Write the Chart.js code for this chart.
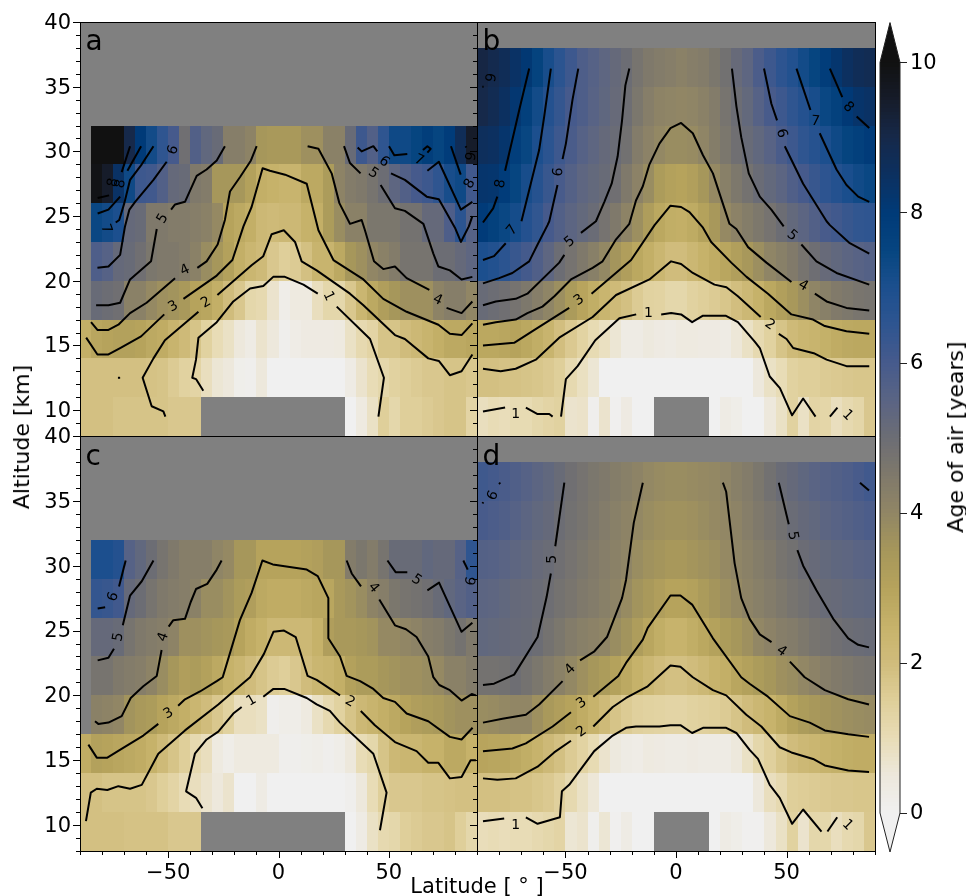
<!DOCTYPE html>
<html>
<head>
<meta charset="utf-8">
<title>Age of air</title>
<script src="https://cdn.jsdelivr.net/npm/chart.js@4"></script>
<style>
  body { margin: 0; background: #fff; }
  #figure { position: relative; width: 966px; height: 896px; overflow: hidden; font-family: "DejaVu Sans", sans-serif; color: #000; }
  canvas { position: absolute; }
  .axis-title { position: absolute; font-size: 21px; line-height: 24px; white-space: pre; }
  #altitude-title { left: 22px; top: 437px; font-size: 22px; transform: translate(-50%, -50%) rotate(-90deg); }
  #latitude-title { left: 477px; top: 886px; transform: translate(-50%, -50%); }
  #age-title { left: 956px; top: 437px; font-size: 22px; transform: translate(-50%, -50%) rotate(-90deg); }
</style>
</head>
<body>
<div id="figure">
  <canvas id="panelA"></canvas>
  <canvas id="panelB"></canvas>
  <canvas id="panelC"></canvas>
  <canvas id="panelD"></canvas>
  <canvas id="colorbar"></canvas>
  <div class="axis-title" id="altitude-title">Altitude [km]</div>
  <div class="axis-title" id="latitude-title">Latitude [ ° ]</div>
  <div class="axis-title" id="age-title">Age of air [years]</div>
</div>
<script>
// Cell edges shared by all panels
const latitudeEdges = [-90,-85,-80,-75,-70,-65,-60,-55,-50,-45,-40,-35,-30,-25,-20,-15,-10,-5,0,5,10,15,20,25,30,35,40,45,50,55,60,65,70,75,80,85,90];
const altitudeEdges = [8,11,14,17,20,23,26,29,32,35,38];
const latitudeLabels = [-50,0,50];
const altitudeLabels = [10,15,20,25,30,35,40];
const colorbarTicks = [0,2,4,6,8,10];

// Colour scale
const colorStops = [0,0.5,1,1.5,2,2.5,3,3.5,4,4.5,5,5.5,6,6.5,7,7.5,8,8.5,9,9.5,10];
const colorValues = ['#f0f0f0','#ede8dc','#e8dcb6','#dfcf9a','#d0bc7c','#c6b26a','#b6a35c','#a6975b','#918665','#7f796b','#6c6d74','#5a6484','#465a8c','#2f5590','#1c4f8e','#064580','#003a78','#0c3060','#16294a','#161c2a','#111111'];

// Age of air per cell, one row per altitude band from the bottom, null = no data
const panelAGrid = [
  [1.9,1.9,1.9,1.8,1.8,1.8, 1.8,1.8,1.7,1.7,1.7,null, null,null,null,null,null,null, null,null,null,null,null,null, 0,0.4,0.8,1.5,1.2,1.5, 1.5,1.6,1.7,1.8,1.8,1.3],
  [1.9,1.9,1.9,1.9,1.9,1.9, 1.85,1.8,1.6,1.4,1.3,0.9, 0.6,0.5,0.15,0.1,0.5,0, 0,0,0,0,0,0, 0.3,0.7,1,1.2,1.4,1.5, 1.6,1.7,1.7,1.8,1.8,1.7],
  [2.6,2.9,3,3.1,3.1,3, 2.8,2.7,2.4,2.1,1.8,1.4, 1,0.8,0.5,0.3,0.7,0.5, 0.1,0.25,0.35,0.35,0.35,0.4, 0.8,1.1,1.3,1.8,1.8,2, 2.2,2.4,2.6,2.8,2.8,2.9],
  [null,5.1,5,4.9,4.2,4.2, 3.9,3.7,3.6,3.4,3,2.9, 2.6,2,1.7,1.2,1.1,0.7, 0.2,0.4,0.4,0.9,1.2,1.2, 1.7,2.3,2.8,3.2,3.5,3.7, 3.7,3.7,4.1,4.3,4.3,4],
  [null,5.8,5.6,5.2,5.1,4.9, 4.6,4.5,4.5,4.4,4.2,3.8, 3.5,3.1,2.6,2.3,2.1,1.7, 1.5,1.6,1.9,2.4,2.4,2.8, 3.5,3.7,4,4.2,4.4,4.7, 4.7,4.7,5,5,5.2,5.4],
  [null,7.4,7.2,7,5.2,5.1, 4.5,4.5,4.4,4.4,4.3,4.2, 3.9,3,2.8,2.6,2.2,2.1, 2.2,2.2,2.5,2.6,3.3,3.8, 4.2,4.2,4.6,4.6,4.6,4.8, 4.8,5.2,5.2,5.8,6.6,5.6],
  [null,9.9,9.5,8.4,7.3,6.2, 6.1,5.7,5.2,5.1,4.5,4.4, 3.5,3.5,3.5,3.1,2.6,2.5, 2.4,2.4,2.8,2.8,3.3,4.1, 4.4,4.5,4.7,5,5.4,5.7, 6,6.2,6.5,7.1,7.3,6.1],
  [null,10,10,10,9,8, 7.2,6.5,6,4.9,5.7,5.3, 5.1,4.3,4.3,4.1,3.5,3.4, 3.4,3.4,3.7,3.7,4.2,4.2, 5.1,6.2,5.7,6.5,7.3,7.3, 7.5,7.8,7.5,7.9,8.7,9.5]
];
const panelBGrid = [
  [0.9,1,0.95,1.05,1.05,1.2, 1.3,1.4,0.7,0.75,0.1,0.7, 0.05,0.35,0,0,null,null, null,null,null,0,0.3,0.2, 0,0,0.5,0.8,1.4,0.8, 1.3,1.25,0.9,1.1,1.25,1.7],
  [1.9,1.9,1.85,1.85,1.8,1.75, 1.65,1.5,1.1,0.85,0.6,0, 0,0,0,0,0,0, 0,0,0,0,0,0, 0,0.5,0.8,1,1.4,1.5, 1.5,1.6,1.65,1.7,1.75,1.75],
  [2.85,2.85,2.9,3,2.85,2.65, 2.4,1.95,1.65,1.35,1.05,0.85, 0.6,0.3,0.3,0.45,0.35,0.3, 0.4,0.4,0.35,0.35,0.3,0.55, 0.8,1.1,1.4,1.8,2.1,2.3, 2.4,2.55,2.7,2.8,2.85,2.85],
  [5.1,5,4.9,4.75,4.55,4.3, 4.05,3.75,3.35,2.95,2.65,2.35, 2.1,1.9,1.6,1.4,1.35,1.2, 1.2,1.4,1.5,1.6,1.75,1.95, 2.2,2.5,2.85,3.15,3.45,3.75, 4.05,4.25,4.45,4.55,4.65,4.7],
  [7,6.85,6.6,6.3,6.05,5.75, 5.4,5,4.75,4.5,4.25,3.95, 3.55,3.2,2.85,2.6,2.3,2, 2,2.25,2.5,2.7,2.9,3.15, 3.45,3.75,4.05,4.25,4.45,4.7, 4.95,5.15,5.3,5.45,5.55,5.65],
  [7.95,7.7,7.4,7.15,6.8,6.45, 6,5.7,5.45,5.25,5.05,4.75, 4.5,4.1,3.75,3.25,2.85,2.65, 2.6,2.75,3.05,3.45,3.9,4.15, 4.35,4.55,4.75,5,5.25,5.45, 5.7,5.95,6.1,6.3,6.45,6.5],
  [8.25,8.2,7.9,7.5,7.1,6.75, 6.3,5.95,5.65,5.4,5.25,5.1, 4.9,4.5,4.15,3.8,3.3,3.1, 3,3.15,3.5,3.9,4.25,4.55, 4.8,5.05,5.25,5.45,5.75,6, 6.3,6.55,6.8,7.05,7.25,7.4],
  [8.6,8.5,8.25,7.8,7.45,7, 6.6,6.2,5.9,5.6,5.4,5.2, 5.05,4.85,4.4,4.15,3.95,3.8, 3.8,3.85,4.05,4.35,4.6,4.9, 5.1,5.3,5.55,5.9,6.2,6.5, 6.75,7,7.3,7.55,7.75,7.95],
  [9,8.8,8.5,8.15,7.75,7.2, 6.8,6.4,6,5.8,5.55,5.35, 5.15,4.95,4.6,4.3,4.1,4.05, 4,4.05,4.2,4.4,4.7,5, 5.25,5.6,5.95,6.2,6.5,6.8, 7.1,7.4,7.7,8.05,8.3,8.4],
  [9.1,8.9,8.7,8.4,8.1,7.6, 7.1,6.6,6.2,5.8,5.6,5.4, 5.2,5,4.7,4.5,4.4,4.3, 4.2,4.3,4.4,4.6,4.85,5.15, 5.4,5.85,6.2,6.55,6.85,7.2, 7.5,7.85,8.2,8.5,8.7,8.8]
];
const panelCGrid = [
  [1.9,1.9,1.9,1.9,1.85,1.85, 1.85,1.85,1.7,1.7,1.7,null, null,null,null,null,null,null, null,null,null,null,null,null, 0,0.3,0.8,1.1,1.2,1.5, 1.6,1.7,1.7,1.8,1.5,1.2],
  [1.9,1.9,1.8,1.8,1.8,1.8, 1.7,1.5,1.3,1,0.9,0.7, 0.5,0.7,0,0,0.3,0, 0,0,0,0,0,0, 0.1,0.5,1,1.5,1.7,1.7, 1.7,1.8,1.8,1.85,1.9,1.9],
  [2.7,3.1,3,2.9,2.8,2.7, 2.5,2.1,1.8,1.5,1.1,0.9, 0.4,0.2,0.4,0.4,0.4,0.4, 0.1,0.1,0.15,0.2,0.1,0.2, 0.5,1,1.2,1.8,2.2,2.3, 2.3,2.5,2.5,2.8,2.8,2.5],
  [null,4.2,4.1,4,3.6,3.4, 3.3,3,2.8,2.6,2.3,2, 1.7,1.4,0.9,0.9,0.8,0.1, 0.2,0.2,0.4,0.8,1.1,1.4, 1.8,2.2,2.4,2.6,2.8,3, 3.2,3.3,3.4,3.6,3.7,3.7],
  [null,4.7,4.7,4.5,4.4,4.3, 4.1,3.8,3.5,3.2,3.3,3.1, 2.8,2.5,2.3,2,1.8,1.6, 1.5,1.7,2,2.3,2.4,2.6, 3.1,3.3,3.3,3.5,3.6,3.7, 3.7,3.8,3.9,4.2,4.2,4.4],
  [null,5.2,5.2,5.1,4.7,4.5, 4.4,4.3,4.1,3.7,3.7,3.6, 3.5,3.4,3,2.7,2.5,2.2, 2.2,2.2,2.2,2.5,3.2,3.4, 3.4,3.5,3.6,3.9,3.9,4, 4.1,4.3,4.4,4.6,4.8,4.5],
  [null,6.4,6.3,6.1,5.2,5, 4.7,4.5,4.4,4.3,4.2,3.8, 3.8,3.6,3.3,3.2,2.8,2.7, 2.7,2.7,2.8,2.9,2.9,3.4, 3.6,3.8,4.1,4.3,4.6,4.7, 4.8,4.9,5.1,5.3,5.5,5.7],
  [null,7,7,6.8,5.6,5.3, 5,4.7,4.5,4.3,4.3,4.3, 4.05,3.9,3.5,3.5,3,3, 3,3,3.1,3.2,3.5,3.5, 4.4,4.6,4.4,4.7,5.1,5.1, 5.1,5.3,5.2,5.2,5.6,6.5]
];
const panelDGrid = [
  [0.95,1,0.95,1,1,1.1, 1.2,1.3,0.6,0.7,0.1,0.6, 0.05,0.3,0,0,null,null, null,null,null,0,0.3,0.2, 0.05,0.05,0.5,0.8,1.4,0.7, 1.2,1.2,0.9,1.1,1.2,1.7],
  [1.9,1.9,1.9,1.85,1.85,1.75, 1.65,1.45,1.1,0.8,0.55,0, 0,0,0,0,0,0, 0,0,0,0,0,0, 0,0.5,0.9,1.1,1.5,1.55, 1.6,1.65,1.7,1.7,1.75,1.75],
  [2.95,2.9,2.9,2.8,2.65,2.45, 2.15,1.9,1.6,1.35,1.05,0.7, 0.45,0.3,0.25,0.4,0.35,0.3, 0.3,0.35,0.3,0.3,0.3,0.5, 0.8,1.2,1.45,1.75,2,2.2, 2.3,2.45,2.55,2.65,2.7,2.7],
  [3.8,3.85,3.95,4,4,3.7, 3.4,3.2,3,2.7,2.45,2.1, 1.8,1.6,1.45,1.4,1.35,1.3, 1.3,1.4,1.45,1.5,1.6,1.8, 2,2.25,2.45,2.75,3.05,3.3, 3.45,3.55,3.65,3.75,3.8,3.85],
  [4.8,4.8,4.85,4.95,4.8,4.6, 4.4,4.2,3.95,3.7,3.5,3.3, 3.05,2.8,2.5,2.25,2,1.9, 1.9,2,2.2,2.45,2.6,2.9, 3.1,3.3,3.5,3.7,3.8,3.98, 4.15,4.3,4.45,4.55,4.65,4.7],
  [5.3,5.25,5.2,5.15,5.1,5, 4.8,4.6,4.4,4.25,4.15,4.05, 3.8,3.6,3.25,2.9,2.65,2.45, 2.45,2.65,2.85,3.05,3.3,3.5, 3.7,3.98,4.15,4.3,4.4,4.55, 4.7,4.8,4.9,5,5.05,5.1],
  [5.45,5.4,5.3,5.2,5.15,5.05, 4.95,4.8,4.65,4.5,4.4,4.25, 4.1,3.85,3.6,3.4,3.2,3, 3,3.1,3.35,3.55,3.75,3.9, 4.1,4.25,4.4,4.55,4.7,4.85, 4.98,5.1,5.15,5.25,5.3,5.35],
  [5.65,5.6,5.5,5.4,5.3,5.15, 5.05,4.9,4.75,4.6,4.45,4.3, 4.2,4.05,3.8,3.65,3.55,3.45, 3.45,3.55,3.65,3.75,3.9,4.05, 4.2,4.35,4.5,4.7,4.85,5.03, 5.15,5.25,5.35,5.4,5.5,5.55],
  [5.95,5.85,5.75,5.6,5.45,5.3, 5.2,5,4.85,4.7,4.55,4.4, 4.25,4.1,3.95,3.8,3.7,3.65, 3.65,3.7,3.8,3.9,3.98,4.1, 4.3,4.5,4.65,4.85,5.05,5.2, 5.3,5.45,5.55,5.65,5.75,5.85],
  [6.15,6.05,5.9,5.75,5.6,5.45, 5.3,5.1,4.9,4.75,4.6,4.5, 4.35,4.25,4.1,3.95,3.85,3.8, 3.8,3.85,3.9,3.95,4.05,4.25, 4.4,4.6,4.85,5.05,5.2,5.35, 5.5,5.6,5.7,5.8,5.95,6.1]
];

// Contour segments as [latitude, altitude]; gaps in a line are where its label sits
const panelAContours = [
  [[-67.3,30.4],[-71.1,28.4]],
  [[-62.3,30.4],[-68.5,28.5]],
  [[-56.7,30.4],[-62,29],[-67.3,27.8],[-69.9,26],[-72.2,24.7],[-73.8,24.5]],
  [[-76.8,26.6],[-82,26.4]],
  [[-71.8,26.5],[-77.1,25.5],[-82,25.2]],
  [[-50.7,29.2],[-56.7,27.8],[-65,26.1],[-67.6,25.5],[-69.6,24.2],[-71.8,22],[-77.1,21.1],[-82.1,21]],
  [[-24.3,30.4],[-28,29.3],[-32.6,28.6],[-37.1,28.1],[-42.4,26.1],[-46.9,25.9],[-48.7,25.5]],
  [[-55.2,24],[-57.8,21.5],[-67.3,20.1],[-71.8,18.3],[-77.1,18.1],[-82.7,18.1]],
  [[-9.9,30.4],[-12.5,29.3],[-17.5,28],[-22,26.9],[-24.3,24.7],[-27.6,22.8],[-32.6,21.5],[-36.8,21]],
  [[-46.9,20.2],[-59.8,18.3],[-67.3,17.5],[-72.6,16.6],[-77.1,16.2],[-82.1,16.2],[-85,16.8]],
  [[-43.1,18.6],[-28,20.4],[-20.9,21.6],[-15.9,24.2],[-12.2,25.7],[-7.2,28.7],[-3.9,28.5],[3,28.2],[12.8,27.5],[18.1,23.9],[24.9,21.6],[38.5,20.1],[47.5,18.6],[58.1,17.6],[72.5,16.6],[77.7,15.9],[83,15.8],[87.9,16.7]],
  [[-51.8,17.4],[-62.3,15.7],[-71.8,14.8],[-77.1,14.3],[-82.1,14.3],[-87.2,15.6]],
  [[-27.7,18.9],[-12.2,21.2],[-6.9,21.9],[-3.1,23.6],[2.4,23.9],[7.5,23],[10.5,21.5],[17.3,20.8],[32.4,19],[38.5,18.1],[52.8,15.8],[57.3,15.5],[67.9,14],[72.7,13.8],[77.7,12.7],[83,13],[87.9,14.3]],
  [[-36.3,17.6],[-51.5,15.4],[-56.7,14],[-61.6,12.5],[-57.5,10.3],[-52.2,9.9],[-51.3,9.5]],
  [[-34.1,11.5],[-37.4,12.4],[-39.1,12.5],[-37.4,13.9],[-36.3,15.6],[-28,16.8],[-20.5,18.4],[-12.9,19.4],[-6.9,19.6],[-2.4,20.3],[2.9,20.3],[11.3,19.7],[17.8,19]],
  [[26.4,18],[41.5,15.5],[47.8,12.5],[45.3,9.5]],
  [[13.2,30.4],[18.1,30.2],[24.1,28.3],[27.6,26],[32.4,24.4],[37.7,24.7],[39.2,23.9],[43.3,21.5],[47.5,20.9],[52.8,21.1],[58.1,20.2],[68.4,19.3]],
  [[76.2,17.9],[83,17.5],[87.9,18.4]],
  [[29.7,30.4],[32.4,29.1],[37.2,28.3]],
  [[46.3,27.4],[52.8,25.6],[57.3,25.4],[65.7,24.4],[70.2,22.1],[72.5,21.1],[77.7,20.8],[83,20.1],[87.9,20.3]],
  [[35.9,30.3],[37.7,30],[43,30.4],[44.8,30]],
  [[51,28.3],[57.3,27.8],[67.2,26.5],[72.7,26.3],[80,24.1],[82.7,23],[86.3,24.2],[87.9,25]],
  [[50.1,30.4],[52.5,29.7],[58.4,29.8]],
  [[67.5,28.5],[72.7,29.2],[82.7,25.5],[87.9,26.1]],
  [[78.2,30.4],[82.6,28.2]],
  [[84.8,30.4],[85.2,30.3]],
  [[65.5,30.1],[67.5,30.4],[69,30.2],[67.5,29.9]],
  [[-72.8,12.5],[-71.8,12.5]]
];
const panelALabels = [
  [-47.7,30.1,'6',-70],[-52.5,24.8,'5',-60],[-42.4,20.8,'4',-25],[-47.7,18,'3',-30],[-32.9,18.3,'2',-30],
  [22.6,18.8,'1',65],[72.1,18.5,'4',25],[43,28.3,'5',35],[47.8,29.2,'6',40],[63.7,29.3,'7',25],
  [86.8,27.5,'8',-60],[87.6,29.6,'9',-80],[-78.2,24,'7',70],[-75,27.6,'8',-80],[-71.5,27.5,'8',-80]
];
const panelBContours = [
  [[-66.4,36.4],[-70.9,33.2],[-73.2,31.5],[-77.3,28.5]],
  [[-80.8,26.5],[-82.7,25.6],[-87.3,24.5]],
  [[-56.6,36.4],[-59.6,32.7],[-61.9,30.1],[-69.9,24.6]],
  [[-77,22.9],[-82.3,21.9],[-87.3,21.6]],
  [[-44.2,36.4],[-46.8,34],[-49.8,30.6],[-51.3,29.4]],
  [[-53.6,27.4],[-57.3,24.6],[-58.1,24.3],[-62.6,22.8],[-66.4,21.5],[-74,20.6],[-80,20.2],[-87.3,19.8]],
  [[-21.1,36.4],[-22.9,35.1],[-24.4,32.4],[-26.4,29.6],[-29.1,27.5],[-32.4,26.1],[-36.2,24.6],[-43,23.7]],
  [[-50.5,22],[-52.8,21.4],[-67.2,19],[-72.5,18.6],[-81.5,18.4],[-87.3,18.1]],
  [[-87.3,16.6],[-81.5,16.8],[-72.5,17],[-67.2,17.5],[-60.4,18],[-55,18.8],[-47.5,20.1],[-37.7,21],[-33.2,21.5],[-27.1,23.2],[-21.1,24.4],[-18.1,26.2],[-15,27.3],[-12,29],[-7.5,30.6],[-2.5,31.8],[2.3,32.2],[7.6,31.4],[12.2,29.7],[16.7,28.3],[24.2,24.4],[27.3,24],[32.6,22.6],[40.9,21.4],[52.2,19.9]],
  [[62.8,19],[68.1,18.4],[77.1,17.9],[87.4,17.7]],
  [[-87.3,15],[-73.2,15.2],[-64.9,16.1],[-48.3,17.9]],
  [[-38.2,19],[-20.3,21.6],[-9.7,24.3],[-2.5,25.8],[2.3,25.7],[6.1,25.3],[12.2,24.1],[15.9,23],[25,21.4],[31.9,20.3],[41.6,19],[52.2,17.4],[62,17],[67.3,16.5],[77.1,16.1],[87.4,15.9]],
  [[-87.3,13.2],[-79.3,13],[-72.5,13.2],[-63.4,13.9],[-52.8,15.6],[-37.7,17.2],[-27.1,18.9],[-12,20.1],[-2.2,21.5],[2.3,21.3],[7.6,20.6],[17.4,19.7],[22.8,19.5],[28,18.8],[38.3,17.2]],
  [[46.5,15.9],[50,15.5],[53,14.8],[62.3,14.4],[68.1,13.9],[77.1,13.4],[87.4,13.4]],
  [[-87.3,9.9],[-77.3,10.2]],
  [[-67.9,10.2],[-62.6,9.7],[-57.3,9.7],[-55.8,9.5]],
  [[-52,9.5],[-49.8,12.4],[-44.5,13.4],[-36.5,15.4],[-25.6,17.1],[-18,17.4]],
  [[-6.7,17.4],[-2.2,17.5],[2.3,17.4],[7.3,16.8],[12.2,17.3],[22.4,17.3],[28,16.8],[35.6,15.3],[37.9,14.8],[42.4,12.6],[47,11.7],[52.5,9.6],[57.5,10.9],[63.1,9.5]],
  [[69.6,9.5],[73,10.2]],
  [[25.3,36.4],[27.3,33.5],[29.5,31.1],[32.9,28.3],[37.9,26.5],[43.1,25.5],[48.7,24.2]],
  [[56.7,22.8],[63.5,21.5],[72.6,20.6],[87.4,19.7]],
  [[39.8,36.4],[43.1,33.7],[45.7,32.4]],
  [[49.2,30.4],[57.5,27.5],[68.1,24.6],[69.6,24.3],[78.6,22.9],[87.4,22.1]],
  [[54.5,36.4],[60.8,33.2]],
  [[65,31.4],[72.6,28.6],[77.1,27.4],[82.4,26.5],[87.4,26.1]],
  [[69.6,36.4],[75.2,34.2]],
  [[81.7,32.7],[87.4,31.8]],
  [[-87.6,35],[-87,35]]
];
const panelBLabels = [
  [-79.3,27.5,'8',-80],[-74,23.9,'7',-50],[-53.1,28.4,'6',-85],[-48,23,'5',-40],[-43.8,18.5,'3',-35],
  [-72.5,9.7,'1',0],[-12.5,17.5,'1',0],[77.6,9.6,'1',45],[42.4,16.6,'2',35],[57.5,19.6,'4',30],
  [52.5,23.5,'5',40],[47.7,31.4,'6',75],[63.1,32.3,'7',5],[77.9,33.4,'8',45],[-83.3,35.7,'9',-80]
];
const panelCContours = [
  [[-69.3,30.4],[-72.3,28.4]],
  [[-78.6,26.8],[-82,26.7]],
  [[-56.7,30.4],[-62,28.8],[-67.3,27.7],[-70.6,25.4]],
  [[-74.6,23.6],[-77.1,22.9],[-82,22.7]],
  [[-25.8,30.4],[-28,29.7],[-32.3,28.6],[-37.4,28.2],[-39.8,27.2],[-42.4,25.9],[-47.7,25.8],[-49.8,25.3]],
  [[-53,23.5],[-55.2,21.5],[-61.3,20.7],[-67,19.8],[-71.1,18.4],[-77.1,17.9],[-81.7,17.8],[-83.2,18]],
  [[-45.5,19.2],[-42.4,19.7],[-35.6,20.3],[-28,21.1],[-25.3,21.4],[-17.5,25.8],[-12.2,27.9],[-7.3,30.4],[-2.6,30.1],[12.8,29.7],[17.8,29.2],[22.6,27.5],[22.6,24.4],[27.9,23],[30.9,21.5],[37,21.1],[43,20.5],[47.5,19.8],[52.8,19.5],[58.1,18.6],[67.9,18],[77.7,16.8],[83,16.6],[88,17.5]],
  [[-54.5,17.8],[-61.3,16.9],[-71.9,15.8],[-77.6,15.2],[-82.4,15.2],[-86.2,16.2]],
  [[27.9,20],[17.3,21.2],[13.2,21.5],[7.8,24.5],[2.5,25],[-2.3,24.9],[-6.6,23.2],[-12.9,21.4],[-20.5,20.3],[-27.3,19.3],[-42.4,17.3],[-54.5,15.5],[-62,13.1],[-67.3,12.8],[-72.6,13],[-77.6,12.7],[-82.4,12.8],[-85.1,12.5],[-87.3,10.3]],
  [[37.3,18.8],[43.7,17.7],[52.8,16.4],[62.6,15.7],[67.9,14.8],[72.5,14.8],[77.7,13.6],[83,13.7],[87.1,15],[89.5,15]],
  [[-34.5,11.3],[-37.4,12.1],[-41.9,12.6],[-37.9,15.5],[-32.6,16.6],[-27.3,17.2],[-20.5,18.6],[-16.7,19.1]],
  [[-6.9,19.9],[-2.3,20.5],[2.6,20.5],[12.8,19.8],[17.3,19.3],[23.3,18.8],[27.9,17.9],[43,15.5],[49,12.5],[46,9.6]],
  [[30.9,30.4],[33.2,29.4],[37.4,28.4]],
  [[45.7,27.4],[52.8,25.4],[57.8,25.1],[62.6,24.5],[67.9,23],[70.2,21.4],[72.9,20.8],[77.7,20.4],[83,19.6],[87.6,20.1],[89.5,20]],
  [[49.4,30.4],[53.1,29.5],[58.4,29.5]],
  [[67.5,28.1],[72.8,28.7],[83,24.9],[87.9,25.6]],
  [[83.8,30.4],[85.8,29.7]]
];
const panelCLabels = [
  [-74.9,27.6,'6',-70],[-72.6,24.5,'5',-80],[-52.2,24.5,'4',-70],[-49.9,18.6,'3',-30],[-12.2,19.6,'1',-30],
  [32.4,19.5,'2',30],[43,28.3,'4',50],[62.6,28.9,'5',35],[87.6,28.8,'6',-80]
];
const panelDContours = [
  [[-50.5,36.4],[-54.6,31.5]],
  [[-56.6,29.4],[-58.5,27.6],[-62.6,24.5],[-73.2,21.6],[-82.3,20.9],[-87.3,20.8]],
  [[-15,36.4],[-19.1,33.3],[-22.6,28.9],[-24.4,27.5],[-31.2,24.5],[-36.9,23.4],[-43.4,22.7]],
  [[-51.3,21.1],[-61.9,19.3],[-67.9,18.5],[-78.5,18.2],[-87.3,17.9]],
  [[-37.4,19.9],[-26.1,21.5],[-22.6,22.5],[-15,24.3],[-12.8,25.2],[-2.5,27.7],[2,27.7],[7.3,27],[16.7,24.4],[29.5,21.4],[33.3,20.9],[41.6,19.9],[51.5,18.4],[60.5,17.9],[67.3,17.3],[77.9,17],[87.3,16.8]],
  [[-47.5,18.7],[-55.8,17.6],[-67.9,16.3],[-74,15.9],[-87.3,15.7]],
  [[-37.4,17.6],[-28.6,19.1],[-22.6,19.8],[-12.8,20.7],[-2.5,22.3],[2,22.2],[7.6,21.4],[16.7,20.4],[22.7,20],[31.8,18.5],[38.6,17.6],[46.9,16],[52.2,15.6],[62,15.1],[67.3,14.6],[77.9,14.2],[87.3,14.1]],
  [[-47.5,16.5],[-55.1,15.6],[-62.6,14.5],[-72.5,13.6],[-80.8,13.5],[-87.3,13.6]],
  [[-87.3,10.3],[-77.7,10.5]],
  [[-67.9,10.6],[-62.6,10.1],[-52.5,10.6],[-51.6,12.6],[-48.3,13.1],[-37,15.7],[-28.6,16.9],[-22.6,17.5],[-18.1,17.6],[-7.5,17.6],[-2.5,17.7],[2,17.7],[7.3,17.1],[12.2,17.5],[22.7,17.5],[27.3,17.1],[33.3,15.8],[37.1,15.1],[42.4,13.1],[46.9,12.1],[52.5,10.1],[57.5,11.2],[65.8,9.5]],
  [[68.5,9.5],[72.9,10.6]],
  [[21.2,36.4],[22.7,35.7],[26.5,30.2],[29.5,27.5],[33.3,25.9],[37.9,24.7],[43.2,24.1]],
  [[51.5,22.6],[58.2,21.4],[67.3,20.4],[77.9,19.7],[87.3,19.3]],
  [[46.5,36.4],[51,33.2]],
  [[54.9,31.2],[57.5,30],[63.5,28.1],[71.1,25.9],[77.9,24.4],[82.4,23.9],[87.3,23.7]],
  [[83.2,36.4],[87.3,35.8]],
  [[-80,36.4],[-79.5,36.3]],
  [[-87.5,34.8],[-87.2,34.9]]
];
const panelDLabels = [
  [-55.8,30.5,'5',-90],[-47.8,22,'4',-45],[-42.7,19.4,'3',-35],[-42.7,17.2,'2',-35],[-72.5,10,'1',0],
  [77.6,10,'1',45],[47.7,23.4,'4',35],[52.7,32.3,'5',80],[-82.7,35.4,'6',-65]
];

// Look up the colour of a value from the stops above
function ageColor(value) {
  let i = 0;
  while (i < colorStops.length - 2 && value > colorStops[i + 1]) i++;
  const t = Math.min(1, Math.max(0, (value - colorStops[i]) / (colorStops[i + 1] - colorStops[i])));
  const from = parseInt(colorValues[i].slice(1), 16);
  const to = parseInt(colorValues[i + 1].slice(1), 16);
  const mix = shift => Math.round(((from >> shift) & 255) * (1 - t) + ((to >> shift) & 255) * t);
  return `rgb(${mix(16)},${mix(8)},${mix(0)})`;
}

function sizeCanvas(id, left, top, width, height) {
  const canvas = document.getElementById(id);
  canvas.width = width;
  canvas.height = height;
  canvas.style.left = left + 'px';
  canvas.style.top = top + 'px';
  canvas.style.width = width + 'px';
  canvas.style.height = height + 'px';
  return canvas;
}

// Background and cells go under the contour lines
const cellsPlugin = {
  id: 'cells',
  beforeDatasetsDraw(chart, args, options) {
    const { ctx, chartArea, scales: { x, y } } = chart;
    ctx.save();
    ctx.fillStyle = '#808080';
    ctx.fillRect(chartArea.left, chartArea.top, chartArea.width, chartArea.height);
    options.grid.forEach((row, r) => {
      const top = Math.round(y.getPixelForValue(altitudeEdges[r + 1]));
      const bottom = Math.round(y.getPixelForValue(altitudeEdges[r]));
      row.forEach((value, c) => {
        if (value === null) return;
        const left = Math.round(x.getPixelForValue(latitudeEdges[c]));
        const right = Math.round(x.getPixelForValue(latitudeEdges[c + 1]));
        ctx.fillStyle = ageColor(value);
        ctx.fillRect(left, top, right - left, bottom - top);
      });
    });
    ctx.restore();
  }
};

// Contour labels, panel letter, spines and tick marks go on top
const overlayPlugin = {
  id: 'overlay',
  afterDatasetsDraw(chart, args, options) {
    const { ctx, chartArea, scales: { x, y } } = chart;
    ctx.save();
    ctx.fillStyle = '#000';
    ctx.textAlign = 'center';
    ctx.textBaseline = 'middle';
    ctx.font = '14px "DejaVu Sans"';
    options.labels.forEach(([lat, alt, text, angle]) => {
      ctx.save();
      ctx.translate(x.getPixelForValue(lat), y.getPixelForValue(alt));
      ctx.rotate(angle * Math.PI / 180);
      ctx.fillText(text, 0, 0);
      ctx.restore();
    });
    ctx.font = '28px "DejaVu Sans"';
    ctx.textAlign = 'left';
    ctx.textBaseline = 'alphabetic';
    ctx.fillText(options.letter, x.getPixelForValue(-87.5), y.getPixelForValue(37.8));

    ctx.strokeStyle = '#000';
    ctx.lineWidth = 1;
    ctx.strokeRect(Math.round(chartArea.left) + 0.5, Math.round(chartArea.top) + 0.5,
      Math.round(chartArea.width), Math.round(chartArea.height));
    ctx.beginPath();
    y.ticks.forEach(tick => {
      const py = Math.round(y.getPixelForValue(tick.value)) + 0.5;
      const length = tick.value % 5 === 0 ? 7 : 4;
      ctx.moveTo(chartArea.left - length, py);
      ctx.lineTo(chartArea.left, py);
    });
    if (options.showLatitude) {
      x.ticks.forEach(tick => {
        const px = Math.round(x.getPixelForValue(tick.value)) + 0.5;
        const length = tick.value % 50 === 0 ? 7 : 4;
        ctx.moveTo(px, chartArea.bottom);
        ctx.lineTo(px, chartArea.bottom + length);
      });
    }
    ctx.stroke();
    ctx.restore();
  }
};

function formatTick(value) {
  return value < 0 ? '\u2212' + (-value) : String(value);
}

function createPanel(id, box, padding, grid, contours, labels, letter, showAltitude, showLatitude) {
  const canvas = sizeCanvas(id, box.left, box.top, box.width, box.height);
  const datasets = contours.map(line => ({
    data: line.map(([lat, alt]) => ({ x: lat, y: alt })),
    showLine: true,
    borderColor: '#000',
    borderWidth: 2,
    pointRadius: 0,
    tension: 0,
    borderJoinStyle: 'round'
  }));
  return new Chart(canvas.getContext('2d'), {
    type: 'scatter',
    data: { datasets },
    plugins: [cellsPlugin, overlayPlugin],
    options: {
      responsive: false,
      animation: false,
      layout: { padding },
      plugins: {
        legend: { display: false },
        tooltip: { enabled: false },
        cells: { grid },
        overlay: { labels, letter, showLatitude }
      },
      scales: {
        x: {
          type: 'linear',
          min: -90,
          max: 90,
          display: showLatitude,
          grid: { display: false, drawTicks: false },
          border: { display: false },
          afterFit: scale => { scale.height = showLatitude ? 45 : 0; },
          ticks: {
            stepSize: 10,
            autoSkip: false,
            maxRotation: 0,
            padding: 10,
            color: '#000',
            font: { size: 21 },
            callback: value => latitudeLabels.includes(value) ? formatTick(value) : ''
          }
        },
        y: {
          type: 'linear',
          min: 8,
          max: 40,
          grid: { display: false, drawTicks: false },
          border: { display: false },
          afterFit: scale => { scale.width = showAltitude ? 80 : 12; },
          ticks: {
            display: showAltitude,
            stepSize: 1,
            autoSkip: false,
            padding: 9,
            labelOffset: 1.5,
            color: '#000',
            font: { size: 21 },
            callback: value => altitudeLabels.includes(value) ? String(value) : ''
          }
        }
      }
    }
  });
}

// Colour bar with triangular ends, drawn through its own scale
const colorbarPlugin = {
  id: 'colorbarBody',
  beforeDatasetsDraw(chart) {
    const { ctx, chartArea, scales: { y } } = chart;
    const { left, right, top, bottom } = chartArea;
    const middle = (left + right) / 2;
    const y0 = y.getPixelForValue(0);
    const y10 = y.getPixelForValue(10);
    ctx.save();
    for (let v = 0; v < 10; v += 0.05) {
      const upper = Math.floor(y.getPixelForValue(v + 0.05));
      const lower = Math.ceil(y.getPixelForValue(v));
      ctx.fillStyle = ageColor(v + 0.025);
      ctx.fillRect(left, upper, right - left, lower - upper);
    }
    ctx.fillStyle = ageColor(10);
    ctx.beginPath();
    ctx.moveTo(left, y10);
    ctx.lineTo(middle, top);
    ctx.lineTo(right, y10);
    ctx.closePath();
    ctx.fill();
    ctx.fillStyle = ageColor(0);
    ctx.beginPath();
    ctx.moveTo(left, y0);
    ctx.lineTo(middle, bottom);
    ctx.lineTo(right, y0);
    ctx.closePath();
    ctx.fill();
    ctx.strokeStyle = '#222';
    ctx.lineWidth = 1;
    ctx.beginPath();
    ctx.moveTo(left, y10);
    ctx.lineTo(middle, top);
    ctx.lineTo(right, y10);
    ctx.lineTo(right, y0);
    ctx.lineTo(middle, bottom);
    ctx.lineTo(left, y0);
    ctx.closePath();
    ctx.stroke();
    ctx.beginPath();
    colorbarTicks.forEach(value => {
      const py = Math.round(y.getPixelForValue(value)) + 0.5;
      ctx.moveTo(right, py);
      ctx.lineTo(right + 7, py);
    });
    ctx.stroke();
    ctx.restore();
  }
};

function createColorbar() {
  const canvas = sizeCanvas('colorbar', 870, 0, 96, 896);
  return new Chart(canvas.getContext('2d'), {
    type: 'scatter',
    data: { datasets: [{ data: [] }] },
    plugins: [colorbarPlugin],
    options: {
      responsive: false,
      animation: false,
      layout: { padding: { left: 10, top: 21, bottom: 44 } },
      plugins: { legend: { display: false }, tooltip: { enabled: false } },
      scales: {
        x: { display: false, min: 0, max: 1 },
        y: {
          type: 'linear',
          position: 'right',
          min: -0.52,
          max: 10.53,
          grid: { display: false, drawTicks: false },
          border: { display: false },
          afterFit: scale => { scale.width = 66; },
          afterBuildTicks: scale => { scale.ticks = colorbarTicks.map(value => ({ value })); },
          ticks: { padding: 10, labelOffset: 1, color: '#000', font: { size: 21 } }
        }
      }
    }
  });
}

Chart.defaults.font.family = '"DejaVu Sans"';

createPanel('panelA', { left: 0, top: 0, width: 480, height: 470 }, { top: 22, right: 3, bottom: 34 },
  panelAGrid, panelAContours, panelALabels, 'a', true, false);
createPanel('panelB', { left: 465, top: 0, width: 415, height: 470 }, { top: 22, right: 5, bottom: 34 },
  panelBGrid, panelBContours, panelBLabels, 'b', false, false);
createPanel('panelC', { left: 0, top: 410, width: 510, height: 486 }, { top: 26, right: 33 },
  panelCGrid, panelCContours, panelCLabels, 'c', true, true);
createPanel('panelD', { left: 465, top: 410, width: 445, height: 486 }, { top: 26, right: 35 },
  panelDGrid, panelDContours, panelDLabels, 'd', false, true);
createColorbar();
</script>
</body>
</html>
